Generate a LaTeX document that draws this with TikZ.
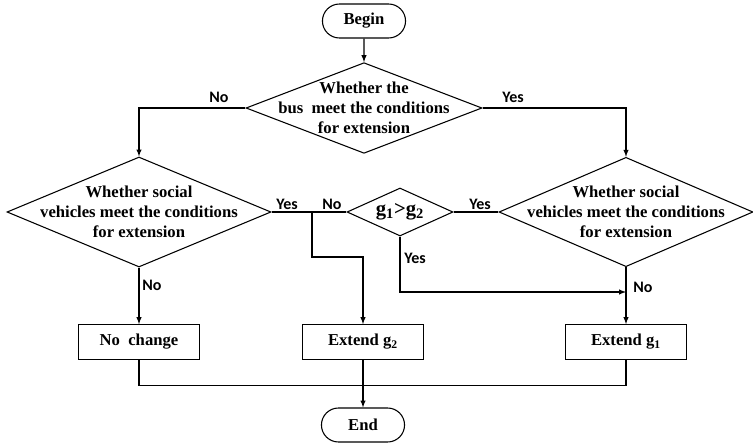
\documentclass[tikz,border=0pt]{standalone}
\usepackage{fontspec}
\setmainfont{Liberation Serif}
\newfontfamily\labfont{Carlito}
\usetikzlibrary{shapes.geometric,shapes.misc}
\tikzset{>=latex}
\tikzset{
  boxfont/.style={font=\bfseries\fontsize{12.5}{15}\selectfont},
  term/.style={rounded rectangle, draw, line width=0.8pt, minimum width=69pt, minimum height=25.5pt, boxfont},
  proc/.style={rectangle, draw, line width=0.8pt, minimum width=91pt, minimum height=26pt, boxfont},
  decision/.style={diamond, draw, line width=0.8pt, inner sep=0pt},
  qtext/.style={align=center, inner sep=0pt, boxfont},
  lab/.style={font=\labfont\bfseries\fontsize{12}{14}\selectfont, inner sep=0pt},
  flow/.style={line width=0.8pt},
}

\begin{document}
\begin{tikzpicture}[x=0.75pt, y=-0.75pt]
    \useasboundingbox (0,0) rectangle (753,443);

    % start / end
    \node [term] (begin) at (364, 21) {Begin};
    \node [term] (end) at (363, 425) {End};

    % decisions
    \node [decision, minimum width=177pt, minimum height=68pt,
           label={[qtext]center:{Whether the\\bus\ \ meet the conditions\\for extension}}] (q1) at (364, 108) {};
    \node [decision, minimum width=198pt, minimum height=82.5pt,
           label={[qtext]center:{Whether social\\vehicles meet the conditions\\for extension}}] (q2) at (139, 212) {};
    \node [decision, minimum width=190.5pt, minimum height=82pt,
           label={[qtext]center:{Whether social\\vehicles meet the conditions\\for extension}}] (q3) at (626, 212) {};
    \node [decision, minimum width=79.5pt, minimum height=36pt,
           label={[qtext, font=\bfseries\fontsize{15.5}{18}\selectfont]center:{g\textsubscript{1}>g\textsubscript{2}}}] (q4) at (400, 212) {};

    % actions
    \node [proc] (nc) at (139, 342) {No\ \ change};
    \node [proc] (e2) at (363, 342) {Extend g\textsubscript{2}};
    \node [proc] (e1) at (626, 342) {Extend g\textsubscript{1}};

    % branch points
    \coordinate (j1) at (312, 212);
    \coordinate (j3) at (626, 292);

    % connectors
    \draw [flow, ->] (begin) -- (q1.north);
    \draw [flow, ->] (q1.west) -| (q2.north);
    \draw [flow, ->] (q1.east) -| (q3.north);
    \draw [flow] (q2.east) -- (q4.west);
    \draw [flow, ->] (j1) -- ++(0, 45) -| (e2.north);
    \draw [flow] (q4.east) -- (q3.west);
    \draw [flow, ->] (q4.south) |- (j3);
    \draw [flow, ->] (q2.south) -- (nc.north);
    \draw [flow, ->] (q3.south) -- (e1.north);
    \draw [flow] (nc.south) -- ++(0, 26) -| (e1.south);
    \draw [flow, ->] (e2.south) -- (end.north);

    % branch labels
    \node [lab] (l1) at (219, 97) {No};
    \node [lab] (l2) at (513, 97) {Yes};
    \node [lab] (l3) at (287, 204) {Yes};
    \node [lab] (l4) at (332, 204) {No};
    \node [lab] (l5) at (480, 204) {Yes};
    \node [lab] (l6) at (415, 258) {Yes};
    \node [lab] (l7) at (643, 287) {No};
    \node [lab] (l8) at (152, 285) {No};
\end{tikzpicture}
\end{document}
